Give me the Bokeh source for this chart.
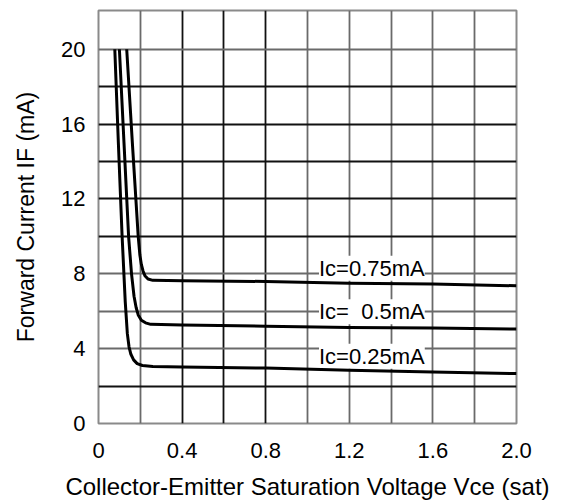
from bokeh.plotting import figure
from bokeh.models import Label, Range1d, FixedTicker, Grid
from bokeh.embed import file_html
from bokeh.resources import INLINE

# Data
vce_025 = [0.078, 0.095, 0.113, 0.128, 0.138, 0.146, 0.155, 0.168, 0.185, 0.21, 0.26, 0.4, 0.8, 1.2, 1.6, 2.0]
if_025 = [20.0, 15.0, 10.0, 6.5, 4.8, 4.1, 3.7, 3.4, 3.2, 3.1, 3.05, 3.02, 2.96, 2.85, 2.75, 2.67]

vce_05 = [0.10, 0.122, 0.144, 0.158, 0.17, 0.18, 0.19, 0.205, 0.225, 0.25, 0.4, 0.8, 1.2, 1.6, 2.0]
if_05 = [20.0, 15.0, 10.0, 8.0, 6.8, 6.2, 5.8, 5.52, 5.38, 5.3, 5.27, 5.2, 5.13, 5.1, 5.05]

vce_075 = [0.135, 0.162, 0.19, 0.198, 0.205, 0.213, 0.222, 0.237, 0.26, 0.4, 0.8, 1.2, 1.6, 2.0]
if_075 = [20.0, 15.0, 10.0, 9.0, 8.5, 8.15, 7.9, 7.72, 7.65, 7.63, 7.59, 7.5, 7.45, 7.36]

series = [(vce_075, if_075), (vce_05, if_05), (vce_025, if_025)]

label_texts = ["Ic=0.75mA", "Ic= \u00a00.5mA", "Ic=0.25mA"]
label_x = [1.055, 1.055, 1.055]
label_y = [8.3, 5.97, 3.6]

x_ticks = [0, 0.4, 0.8, 1.2, 1.6, 2.0]
x_tick_labels = ["0", "0.4", "0.8", "1.2", "1.6", "2.0"]
y_ticks = [0, 4, 8, 12, 16, 20]
y_tick_labels = ["0", "4", "8", "12", "16", "20"]

x_grid_dark = [0.4, 0.6, 0.8]
x_grid_light = [0.2, 1.0, 1.2, 1.4, 1.6, 1.8]
y_grid_dark = [2, 10, 12, 14, 16, 18]
y_grid_light = [4, 6, 8, 20]

x_title = "Collector-Emitter Saturation Voltage Vce (sat)"
y_title = "Forward Current IF (mA)"

FONT = "Liberation Sans"

p = figure(frame_width=418, frame_height=413,
           min_border_left=98, min_border_right=34,
           min_border_top=10, min_border_bottom=62,
           x_range=Range1d(0, 2.0), y_range=Range1d(0, 22.07),
           output_backend="svg", toolbar_location=None)

p.background_fill_color = "white"
p.border_fill_color = "white"
p.outline_line_color = "#8a8a8a"
p.outline_line_width = 2

p.xgrid.visible = False
p.ygrid.visible = False

p.add_layout(Grid(dimension=0, ticker=FixedTicker(ticks=x_grid_light),
                  grid_line_color="#6a6a6a", grid_line_width=1.8))
p.add_layout(Grid(dimension=0, ticker=FixedTicker(ticks=x_grid_dark),
                  grid_line_color="#111111", grid_line_width=1.8))
p.add_layout(Grid(dimension=1, ticker=FixedTicker(ticks=y_grid_light),
                  grid_line_color="#6a6a6a", grid_line_width=1.8))
p.add_layout(Grid(dimension=1, ticker=FixedTicker(ticks=y_grid_dark),
                  grid_line_color="#111111", grid_line_width=1.8))

# labels sit above the grid but below the curves
for t, lx, ly in zip(label_texts, label_x, label_y):
    p.add_layout(Label(x=lx, y=ly, text=t, text_align="left", text_baseline="middle",
                       text_font=FONT, text_font_size="22px", text_color="black",
                       background_fill_color="white", background_fill_alpha=1.0,
                       padding=0, level="underlay"))

for xs, ys in series:
    p.line(xs, ys, line_color="black", line_width=3, line_join="round")

p.xaxis.ticker = FixedTicker(ticks=x_ticks)
p.xaxis.major_label_overrides = {k: v for k, v in zip(x_ticks, x_tick_labels)}
p.yaxis.ticker = FixedTicker(ticks=y_ticks)
p.yaxis.major_label_overrides = {k: v for k, v in zip(y_ticks, y_tick_labels)}

for ax in (p.xaxis, p.yaxis):
    ax.axis_line_color = None
    ax.major_tick_line_color = None
    ax.minor_tick_line_color = None
    ax.major_tick_out = 0
    ax.major_tick_in = 0
    ax.major_label_text_font = FONT
    ax.major_label_text_font_size = "22px"
    ax.major_label_text_color = "black"
    ax.axis_label_text_font = FONT
    ax.axis_label_text_font_style = "normal"
    ax.axis_label_text_color = "black"

p.xaxis.axis_label = x_title
p.xaxis.axis_label_text_font_size = "24px"
p.xaxis.major_label_standoff = 19
p.xaxis.axis_label_standoff = 12

p.yaxis.axis_label = y_title
p.yaxis.axis_label_text_font_size = "23px"
p.yaxis.major_label_standoff = 13
p.yaxis.axis_label_standoff = 19

open("out.html", "w").write(file_html(p, INLINE))
